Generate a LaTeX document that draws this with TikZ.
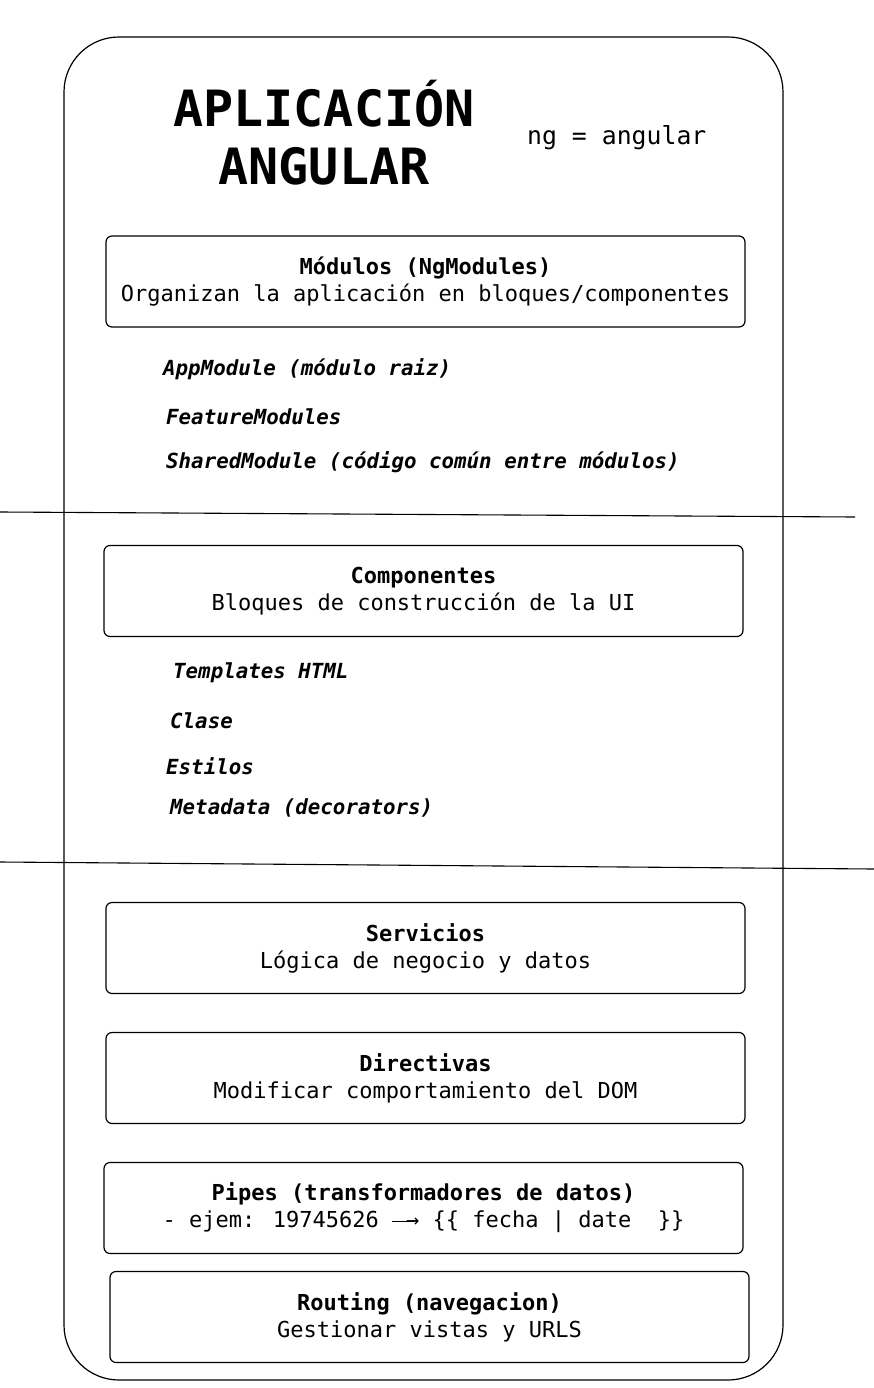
\documentclass[tikz,border=0pt]{standalone}
\usepackage{fontspec}
\setmainfont{DejaVu Sans Mono}
\begin{document}
\begin{tikzpicture}[x=1pt,y=-1pt,
		every node/.style={inner sep=0pt},
		appframe/.style={draw,line width=1.2pt,rounded corners=55pt,minimum width=719pt,minimum height=1343pt},
		partbox/.style={draw,line width=1.2pt,rounded corners=6pt,minimum width=639pt,minimum height=91pt,align=center,font=\fontsize{22}{27}\selectfont},
		item/.style={anchor=west,font=\fontsize{20.8}{25}\selectfont\bfseries\itshape},
		divider/.style={line width=1.1pt}]
		
		\useasboundingbox (0,0) rectangle (874,1388);
		\node[appframe] (app) at (423.5,708.5) {};
		
		\node[align=center,font=\fontsize{50}{58}\selectfont\bfseries] (title) at (324,133) {APLICACIÓN\\ANGULAR};
		\node[anchor=west,font=\fontsize{24.8}{30}\selectfont] (ng) at (527,138) {ng = angular};
		
		% modulos
		\node[partbox] (modulos) at (425.5,281.5) {\textbf{Módulos (NgModules)}\\Organizan la aplicación en bloques/componentes};
		\node[item] (appmod) at (163,369) {AppModule (módulo raiz)};
		\node[item] (featmod) at (166,417) {FeatureModules};
		\node[item] (sharedmod) at (166,462) {SharedModule (código común entre módulos)};
		
		\coordinate (d1a) at (0,512);
		\coordinate (d1b) at (855,517);
		\draw[divider] (d1a) -- (d1b);
		
		% componentes
		\node[partbox] (componentes) at (423.5,591) {\textbf{Componentes}\\Bloques de construcción de la UI};
		\node[item] (templates) at (173,673) {Templates HTML};
		\node[item] (clase) at (170,721) {Clase};
		\node[item] (estilos) at (166,766) {Estilos};
		\node[item] (metadata) at (170,808) {Metadata (decorators)};
		
		\coordinate (d2a) at (0,862);
		\coordinate (d2b) at (874,869);
		\draw[divider] (d2a) -- (d2b);
		
		% resto
		\node[partbox] (servicios) at (425.5,948) {\textbf{Servicios}\\Lógica de negocio y datos};
		\node[partbox] (directivas) at (425.5,1078) {\textbf{Directivas}\\Modificar comportamiento del DOM};
		\node[partbox] (pipes) at (423.5,1208) {\textbf{Pipes (transformadores de datos)}\\- ejem: 19745626 \raisebox{0.5ex}{\rule{22pt}{1pt}}\kern-8pt→ \{\{ fecha | date\ \ \}\}};
		\node[partbox] (routing) at (429.5,1317) {\textbf{Routing (navegacion)}\\Gestionar vistas y URLS};
\end{tikzpicture}
\end{document}
